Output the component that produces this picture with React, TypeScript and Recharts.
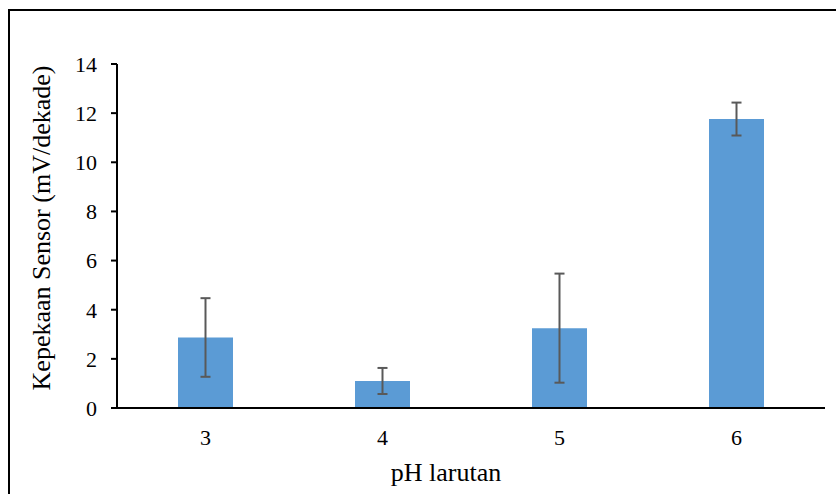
import React from 'react';
import { BarChart, Bar, XAxis, YAxis, ErrorBar } from 'recharts';

// pH larutan vs sensor sensitivity (mV/dekade), with error bars
const phLevels = ['3', '4', '5', '6'];
const sensitivity = [2.87, 1.1, 3.25, 11.76];
const errors = [1.6, 0.53, 2.22, 0.67];
const yTicks = [0, 2, 4, 6, 8, 10, 12, 14];

const chartData = phLevels.map((ph, i) => ({
  ph,
  value: sensitivity[i],
  err: errors[i],
}));

const FONT = "'Liberation Serif', 'Times New Roman', serif";

const YTitle = (props: any) => {
  const { viewBox } = props;
  const x = viewBox.x + 50;
  const y = viewBox.y + viewBox.height / 2 - 8;
  return (
    <text
      x={x}
      y={y}
      transform={`rotate(-90, ${x}, ${y})`}
      textAnchor="middle"
      fontFamily={FONT}
      fontSize={26}
      fill="#000"
    >
      Kepekaan Sensor (mV/dekade)
    </text>
  );
};

const XTitle = (props: any) => {
  const { viewBox } = props;
  const x = viewBox.x + viewBox.width / 2 - 25;
  const y = viewBox.y + 73;
  return (
    <text x={x} y={y} textAnchor="middle" fontFamily={FONT} fontSize={26} fill="#000">
      pH larutan
    </text>
  );
};

const tickStyle = { fill: '#000', fontSize: 22, fontFamily: FONT, style: { fontFamily: FONT } };

export default function App() {
  return (
    <div
      style={{
        position: 'absolute',
        left: 0,
        top: 0,
        width: 836,
        height: 494,
        overflow: 'hidden',
        background: '#fff',
        fontFamily: FONT,
      }}
    >
      <div
        style={{
          position: 'absolute',
          left: 8,
          top: 9,
          width: 900,
          height: 600,
          border: '2px solid #000',
        }}
      />
      <div style={{ position: 'absolute', left: 0, top: 0 }}>
        <BarChart
          width={836}
          height={494}
          data={chartData}
          margin={{ top: 64, right: 11, left: 0, bottom: 0 }}
          style={{ fontFamily: FONT }}
        >
          <XAxis
            dataKey="ph"
            height={86}
            tickLine={false}
            tickSize={6}
            tickMargin={15}
            axisLine={{ stroke: '#000', strokeWidth: 2 }}
            tick={tickStyle}
            label={<XTitle />}
          />
          <YAxis
            width={117}
            domain={[0, 14]}
            ticks={yTicks}
            interval={0}
            tickSize={6}
            tickMargin={14}
            axisLine={{ stroke: '#000', strokeWidth: 2 }}
            tickLine={{ stroke: '#000', strokeWidth: 2 }}
            tick={tickStyle}
            label={<YTitle />}
          />
          <Bar dataKey="value" fill="#5B9BD5" barSize={55} isAnimationActive={false}>
            <ErrorBar dataKey="err" width={5} stroke="#595959" strokeWidth={2} direction="y" />
          </Bar>
        </BarChart>
      </div>
    </div>
  );
}
